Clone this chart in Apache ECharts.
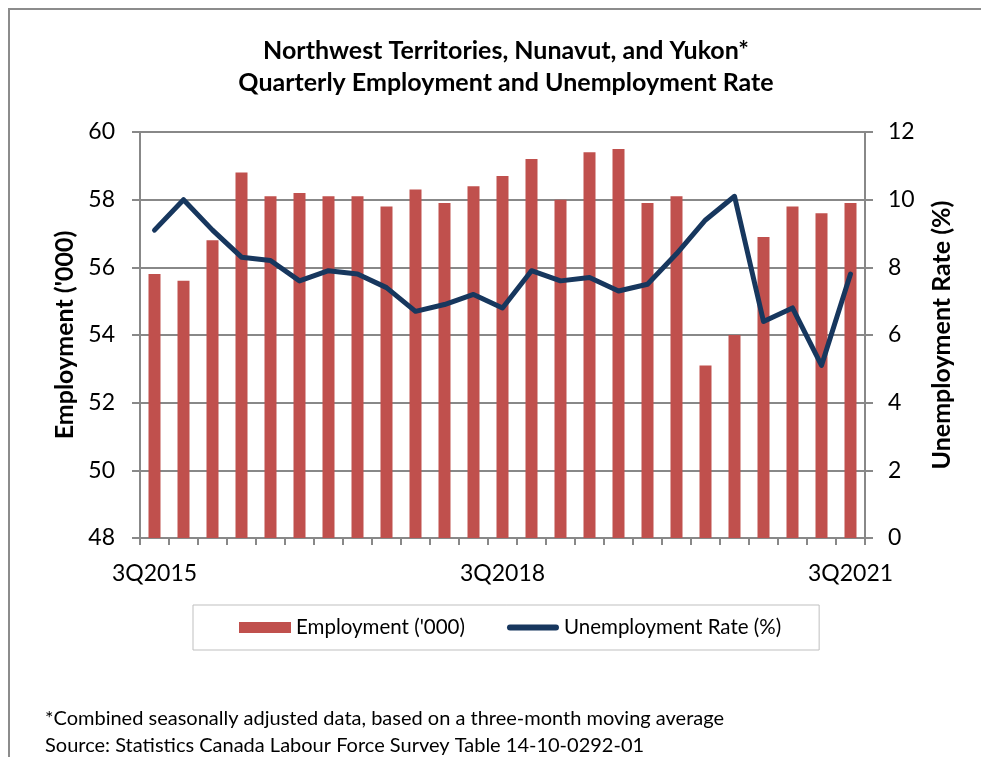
<!DOCTYPE html>
<html>
<head>
<meta charset="utf-8">
<script src="https://cdn.jsdelivr.net/npm/echarts@6/dist/echarts.min.js"></script>
<style>
  html, body { margin: 0; padding: 0; background: #fff; }
  #frame {
    position: absolute; left: 8px; top: 8px; width: 973px; height: 749px;
    border-top: 2px solid #8c8c8c; border-left: 2px solid #8c8c8c;
  }
  #chart { position: absolute; left: 0; top: 0; width: 981px; height: 757px; }
</style>
</head>
<body>
<div id="frame"></div>
<div id="chart"></div>
<script>
// quarters, 3Q2015 .. 3Q2021
var quarters = [
  "3Q2015", "4Q2015", "1Q2016", "2Q2016", "3Q2016", "4Q2016", "1Q2017",
  "2Q2017", "3Q2017", "4Q2017", "1Q2018", "2Q2018", "3Q2018", "4Q2018",
  "1Q2019", "2Q2019", "3Q2019", "4Q2019", "1Q2020", "2Q2020", "3Q2020",
  "4Q2020", "1Q2021", "2Q2021", "3Q2021"
];
// labels shown under the axis
var shownLabels = ["3Q2015", "3Q2018", "3Q2021"];
// employment ('000)
var employment = [
  55.8, 55.6, 56.8, 58.8, 58.1, 58.2, 58.1, 58.1, 57.8, 58.3, 57.9, 58.4, 58.7,
  59.2, 58.0, 59.4, 59.5, 57.9, 58.1, 53.1, 54.0, 56.9, 57.8, 57.6, 57.9
];
// unemployment rate (%)
var unemployment = [
  9.1, 10.0, 9.1, 8.3, 8.2, 7.6, 7.9, 7.8, 7.4, 6.7, 6.9, 7.2, 6.8,
  7.9, 7.6, 7.7, 7.3, 7.5, 8.4, 9.4, 10.1, 6.4, 6.8, 5.1, 7.8
];

var font = "Lato";
var myChart = echarts.init(document.getElementById("chart"));
var option = {
  backgroundColor: "transparent",
  textStyle: { fontFamily: font },
  title: [
    {
      text: "Northwest Territories, Nunavut, and Yukon*\nQuarterly Employment and Unemployment Rate",
      left: 501,
      top: 30,
      textAlign: "center",
      textStyle: { fontFamily: font, fontSize: 25, fontWeight: "bold", color: "#000", lineHeight: 32 }
    },
    {
      text: "*Combined seasonally adjusted data, based on a three-month moving average\nSource: Statistics Canada Labour Force Survey Table 14-10-0292-01",
      left: 40,
      top: 700,
      textStyle: { fontFamily: font, fontSize: 20, fontWeight: "normal", color: "#000", lineHeight: 27 }
    }
  ],
  legend: {
    left: 193,
    top: 605,
    padding: [12, 38, 12, 46],
    borderColor: "#bfbfbf",
    borderWidth: 1,
    itemGap: 42,
    itemWidth: 52,
    itemHeight: 11,
    symbolKeepAspect: true,
    textStyle: { fontFamily: font, fontSize: 20.5, color: "#000" },
    data: [
      { name: "Employment ('000)", icon: "rect" },
      { name: "Unemployment Rate (%)", icon: "path://M3,0 H49 A3,3 0 0 1 49,6 H3 A3,3 0 0 1 3,0 Z" }
    ]
  },
  grid: { left: 140, right: 116, top: 132, bottom: 219 },
  xAxis: {
    type: "category",
    data: quarters,
    axisLine: { lineStyle: { color: "#888", width: 2 } },
    axisTick: { show: true, interval: 0, length: 7, lineStyle: { color: "#888", width: 2 } },
    axisLabel: {
      interval: 0,
      margin: 24,
      fontSize: 23,
      color: "#000",
      formatter: function (v) { return shownLabels.indexOf(v) >= 0 ? v : ""; }
    }
  },
  yAxis: [
    {
      type: "value",
      min: 48, max: 60, interval: 2,
      name: "Employment ('000)",
      nameLocation: "middle",
      nameRotate: 90,
      nameGap: 62,
      nameTextStyle: { fontFamily: font, fontSize: 25, fontWeight: "bold", color: "#000" },
      axisLine: { show: true, lineStyle: { color: "#888", width: 2 } },
      axisTick: { show: true, length: 8, lineStyle: { color: "#888", width: 2 } },
      axisLabel: { fontSize: 23, color: "#000", margin: 25 },
      splitLine: { lineStyle: { color: "#888", width: 2 } }
    },
    {
      type: "value",
      min: 0, max: 12, interval: 2,
      name: "Unemployment Rate (%)",
      nameLocation: "middle",
      nameRotate: 90,
      nameGap: 64,
      nameTextStyle: { fontFamily: font, fontSize: 25, fontWeight: "bold", color: "#000" },
      axisLine: { show: true, lineStyle: { color: "#888", width: 2 } },
      axisTick: { show: true, length: 8, lineStyle: { color: "#888", width: 2 } },
      axisLabel: { fontSize: 23, color: "#000", margin: 23 },
      splitLine: { show: false }
    }
  ],
  series: [
    {
      name: "Employment ('000)",
      type: "bar",
      yAxisIndex: 0,
      barWidth: 12,
      itemStyle: { color: "#C0504D" },
      data: employment
    },
    {
      name: "Unemployment Rate (%)",
      type: "line",
      yAxisIndex: 1,
      symbol: "none",
      lineStyle: { color: "#17375E", width: 5, cap: "round", join: "round" },
      itemStyle: { color: "#17375E" },
      data: unemployment
    }
  ]
};
myChart.setOption(option);
</script>
</body>
</html>
